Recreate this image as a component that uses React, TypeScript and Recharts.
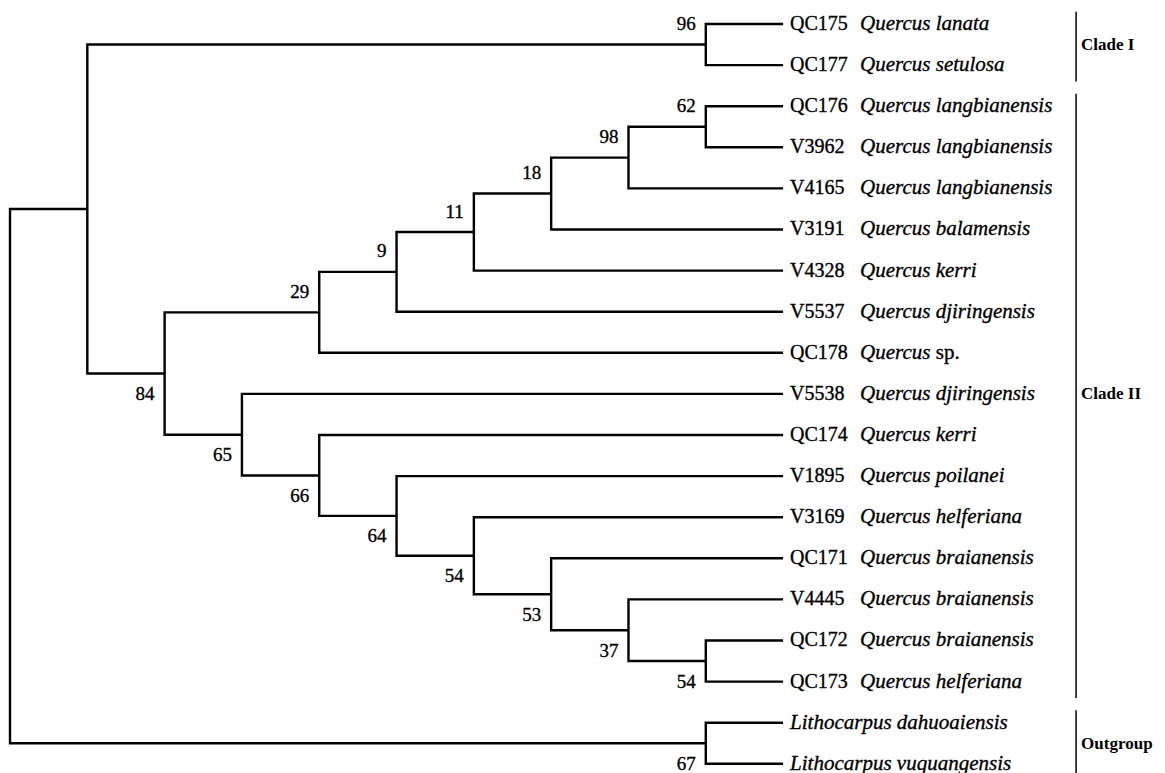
import { ScatterChart, Scatter, XAxis, YAxis } from 'recharts';

// =============================================================================
// Data
// =============================================================================

const leafCodes = [
  'QC175', 'QC177', 'QC176', 'V3962', 'V4165', 'V3191', 'V4328', 'V5537', 'QC178',
  'V5538', 'QC174', 'V1895', 'V3169', 'QC171', 'V4445', 'QC172', 'QC173', '', '',
];

const leafGenus = [
  'Quercus', 'Quercus', 'Quercus', 'Quercus', 'Quercus', 'Quercus', 'Quercus', 'Quercus', 'Quercus',
  'Quercus', 'Quercus', 'Quercus', 'Quercus', 'Quercus', 'Quercus', 'Quercus', 'Quercus',
  'Lithocarpus', 'Lithocarpus',
];

const leafEpithet = [
  'lanata', 'setulosa', 'langbianensis', 'langbianensis', 'langbianensis', 'balamensis', 'kerri',
  'djiringensis', 'sp.', 'djiringensis', 'kerri', 'poilanei', 'helferiana', 'braianensis',
  'braianensis', 'braianensis', 'helferiana', 'dahuoaiensis', 'vuquangensis',
];

// internal nodes: id, depth (cladogram level), children, bootstrap support
const nodeIds = [
  'root', 'ingroup', 'cladeI', 'cladeII', 'n29', 'n9', 'n11', 'n18', 'n98', 'n62',
  'n65', 'n66', 'n64', 'n54a', 'n53', 'n37', 'n54b', 'out',
];
const nodeDepths = [0, 1, 9, 2, 4, 5, 6, 7, 8, 9, 3, 4, 5, 6, 7, 8, 9, 9];
const nodeChildren = [
  ['ingroup', 'out'],
  ['cladeI', 'cladeII'],
  ['L0', 'L1'],
  ['n29', 'n65'],
  ['n9', 'L8'],
  ['n11', 'L7'],
  ['n18', 'L6'],
  ['n98', 'L5'],
  ['n62', 'L4'],
  ['L2', 'L3'],
  ['L9', 'n66'],
  ['L10', 'n64'],
  ['L11', 'n54a'],
  ['L12', 'n53'],
  ['L13', 'n37'],
  ['L14', 'n54b'],
  ['L15', 'L16'],
  ['L17', 'L18'],
];
const nodeSupport = [null, null, 96, 84, 29, 9, 11, 18, 98, 62, 65, 66, 64, 54, 53, 37, 54, 67];
const supportAbove = [
  false, false, true, false, true, true, true, true, true, true,
  false, false, false, false, false, false, false, false,
];

const cladeNames = ['Clade I', 'Clade II', 'Outgroup'];
const cladeFirst = [0, 2, 17];
const cladeLast = [1, 16, 18];

// =============================================================================
// Layout
// =============================================================================

const WIDTH = 1165;
const HEIGHT = 773;
const LEAF_DEPTH = 10;
const BAR_DEPTH = 13.79;
const X_DOMAIN: [number, number] = [-0.1294, 14.94];
const Y_DOMAIN: [number, number] = [-0.584, 18.224];
const FONT = "'Liberation Serif', 'Times New Roman', serif";
const BRANCH = { stroke: '#000', strokeWidth: 2.4 };
const TEXT_STYLE = { fontFamily: FONT, stroke: '#000', strokeWidth: 0.35 };

// =============================================================================
// Helpers
// =============================================================================

function posOf(id: string): { x: number; y: number } {
  if (id.startsWith('L')) return { x: LEAF_DEPTH, y: Number(id.slice(1)) };
  const i = nodeIds.indexOf(id);
  const [a, b] = nodeChildren[i];
  return { x: nodeDepths[i], y: (posOf(a).y + posOf(b).y) / 2 };
}

const brackets = nodeIds.map((id, i) => {
  const n = posOf(id);
  const a = posOf(nodeChildren[i][0]);
  const b = posOf(nodeChildren[i][1]);
  return [
    { x: a.x, y: a.y },
    { x: n.x, y: a.y },
    { x: n.x, y: b.y },
    { x: b.x, y: b.y },
  ];
});

const supportPoints = nodeIds
  .map((id, i) => ({ ...posOf(id), value: nodeSupport[i], above: supportAbove[i] }))
  .filter((d) => d.value !== null);

const leafPoints = leafCodes.map((code, i) => ({
  x: LEAF_DEPTH,
  y: i,
  code,
  genus: leafGenus[i],
  epithet: leafEpithet[i],
}));

const cladeBars = cladeNames.map((_, i) => [
  { x: BAR_DEPTH, y: cladeFirst[i] - 0.3 },
  { x: BAR_DEPTH, y: cladeLast[i] + 0.4 },
]);

const cladeLabelPoints = cladeNames.map((name, i) => ({
  x: BAR_DEPTH,
  y: (cladeFirst[i] + cladeLast[i]) / 2,
  name,
}));

const Empty = () => <g />;

// =============================================================================
// Component
// =============================================================================

export default function App() {
  return (
    <div style={{ position: 'absolute', left: 0, top: 0, background: '#fff' }}>
      <ScatterChart width={WIDTH} height={HEIGHT} margin={{ top: 0, right: 0, bottom: 0, left: 0 }}>
        <XAxis type="number" dataKey="x" domain={X_DOMAIN} allowDataOverflow hide />
        <YAxis type="number" dataKey="y" domain={Y_DOMAIN} allowDataOverflow reversed hide />

        {/* tree branches */}
        {brackets.map((pts, i) => (
          <Scatter
            key={`b${i}`}
            data={pts}
            fill="#000"
            line={BRANCH}
            lineType="joint"
            shape={Empty}
            isAnimationActive={false}
          />
        ))}

        {/* bootstrap values */}
        <Scatter
          data={supportPoints}
          fill="#000"
          isAnimationActive={false}
          shape={(p: any) => (
            <text
              x={p.cx - 10}
              y={p.cy + (p.payload.above ? -21 : 20) + 6.5}
              textAnchor="end"
              fontSize={19}
              fill="#000"
              style={TEXT_STYLE}
            >
              {p.payload.value}
            </text>
          )}
        />

        {/* leaf names */}
        <Scatter
          data={leafPoints}
          fill="#000"
          isAnimationActive={false}
          shape={(p: any) => {
            const d = p.payload;
            const sx = d.code ? p.cx + 77 : p.cx + 7;
            const isSp = d.epithet === 'sp.';
            return (
              <g>
                {d.code && (
                  <text x={p.cx + 7} y={p.cy + 6} fontSize={20} fill="#000" style={TEXT_STYLE}>
                    {d.code}
                  </text>
                )}
                <text x={sx} y={p.cy + 6} fontSize={21} fill="#000" style={TEXT_STYLE}>
                  <tspan fontStyle="italic">{d.genus}</tspan>
                  <tspan fontStyle={isSp ? 'normal' : 'italic'}>{' ' + d.epithet}</tspan>
                </text>
              </g>
            );
          }}
        />

        {/* clade bars */}
        {cladeBars.map((pts, i) => (
          <Scatter
            key={`c${i}`}
            data={pts}
            fill="#000"
            line={{ stroke: '#000', strokeWidth: 1.5 }}
            lineType="joint"
            shape={Empty}
            isAnimationActive={false}
          />
        ))}
        <Scatter
          data={cladeLabelPoints}
          fill="#000"
          isAnimationActive={false}
          shape={(p: any) => (
            <text
              x={p.cx + 5}
              y={p.cy + 5.5}
              fontSize={17}
              fontWeight="bold"
              fill="#000"
              style={{ fontFamily: FONT }}
            >
              {p.payload.name}
            </text>
          )}
        />
      </ScatterChart>
    </div>
  );
}
